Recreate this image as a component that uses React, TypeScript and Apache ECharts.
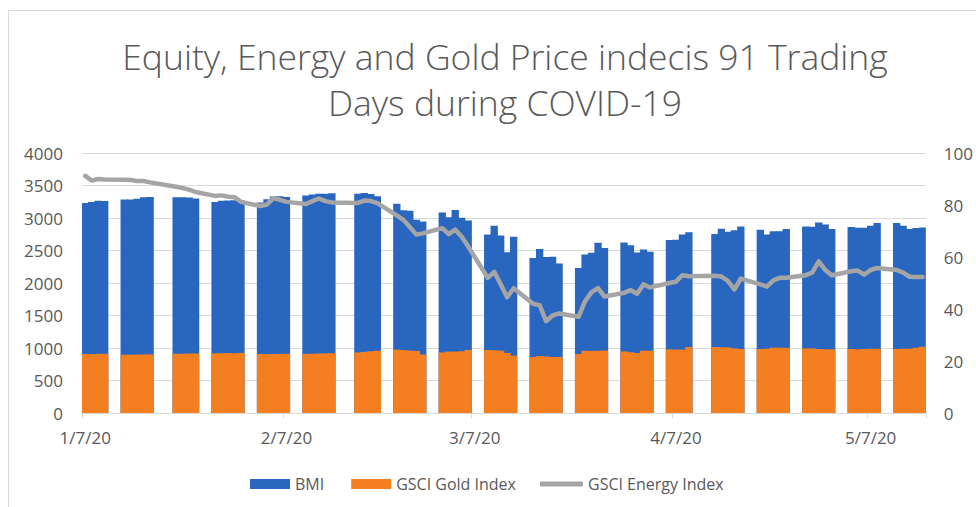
import React, { useEffect, useRef } from 'react';
import * as echarts from 'echarts';

const FONT = '"Open Sans", "Noto Sans", sans-serif';

// Trading days (91) shown on the chart
const tradingDays: string[] = [
  '1/7/20', '1/8/20', '1/9/20', '1/10/20',
  '1/13/20', '1/14/20', '1/15/20', '1/16/20', '1/17/20',
  '1/21/20', '1/22/20', '1/23/20', '1/24/20',
  '1/27/20', '1/28/20', '1/29/20', '1/30/20', '1/31/20',
  '2/3/20', '2/4/20', '2/5/20', '2/6/20', '2/7/20',
  '2/10/20', '2/11/20', '2/12/20', '2/13/20', '2/14/20',
  '2/18/20', '2/19/20', '2/20/20', '2/21/20',
  '2/24/20', '2/25/20', '2/26/20', '2/27/20', '2/28/20',
  '3/2/20', '3/3/20', '3/4/20', '3/5/20', '3/6/20',
  '3/9/20', '3/10/20', '3/11/20', '3/12/20', '3/13/20',
  '3/16/20', '3/17/20', '3/18/20', '3/19/20', '3/20/20',
  '3/23/20', '3/24/20', '3/25/20', '3/26/20', '3/27/20',
  '3/30/20', '3/31/20', '4/1/20', '4/2/20', '4/3/20',
  '4/6/20', '4/7/20', '4/8/20', '4/9/20',
  '4/13/20', '4/14/20', '4/15/20', '4/16/20', '4/17/20',
  '4/20/20', '4/21/20', '4/22/20', '4/23/20', '4/24/20',
  '4/27/20', '4/28/20', '4/29/20', '4/30/20', '5/1/20',
  '5/4/20', '5/5/20', '5/6/20', '5/7/20', '5/8/20',
  '5/11/20', '5/12/20', '5/13/20', '5/14/20', '5/15/20',
];

const bmi: number[] = [
  3230, 3245, 3265, 3260,
  3285, 3285, 3295, 3320, 3325,
  3320, 3320, 3315, 3300,
  3245, 3265, 3270, 3275, 3270,
  3240, 3290, 3330, 3335, 3325,
  3345, 3360, 3375, 3375, 3380,
  3375, 3385, 3370, 3335,
  3220, 3120, 3110, 2975, 2945,
  3085, 3010, 3125, 3005, 2960,
  2745, 2880, 2730, 2475, 2710,
  2385, 2525, 2400, 2405, 2300,
  2230, 2440, 2465, 2620, 2540,
  2625, 2580, 2470, 2515, 2480,
  2660, 2665, 2745, 2780,
  2755, 2835, 2790, 2810, 2870,
  2820, 2745, 2795, 2795, 2830,
  2870, 2865, 2930, 2900, 2830,
  2860, 2850, 2850, 2880, 2925,
  2925, 2880, 2830, 2845, 2855,
];

const gold: number[] = [
  908, 905, 910, 912,
  897, 895, 898, 900, 902,
  912, 910, 915, 915,
  918, 920, 922, 920, 925,
  910, 905, 908, 910, 912,
  910, 912, 915, 918, 920,
  932, 940, 950, 958,
  975, 968, 960, 955, 900,
  932, 945, 945, 950, 970,
  970, 965, 960, 923, 882,
  862, 876, 870, 862, 862,
  908, 958, 955, 958, 960,
  948, 935, 923, 958, 958,
  979, 975, 975, 1015,
  1015, 1013, 1008, 994, 985,
  985, 988, 1005, 1005, 1003,
  994, 994, 985, 980, 979,
  985, 979, 985, 988, 989,
  985, 988, 990, 1005, 1020,
];

const energy: number[] = [
  91.2, 89.4, 90.0, 89.8,
  89.7, 89.6, 89.2, 89.2, 88.7,
  87.0, 86.5, 85.9, 85.0,
  83.5, 83.7, 83.2, 83.0, 81.2,
  79.6, 80.2, 82.6, 82.0, 81.2,
  80.4, 81.5, 82.5, 81.5, 81.0,
  80.8, 81.7, 81.5, 80.7,
  76.0, 74.3, 71.5, 68.6, 69.1,
  71.1, 68.8, 70.5, 67.8, 64.0,
  52.0, 54.3, 49.5, 44.5, 48.0,
  42.0, 41.5, 35.3, 37.5, 38.3,
  37.0, 43.0, 46.5, 48.0, 44.8,
  46.2, 47.3, 45.8, 49.5, 48.3,
  50.0, 50.5, 53.0, 52.6,
  52.8, 52.5, 50.8, 47.5, 51.7,
  49.5, 48.6, 51.0, 52.0, 52.0,
  53.0, 54.0, 58.3, 55.0, 53.0,
  54.5, 54.8, 53.2, 55.0, 55.8,
  55.0, 54.0, 52.4, 52.3, 52.3,
];

const leftTicks = { min: 0, max: 4000, interval: 500 };
const rightTicks = { min: 0, max: 100, interval: 20 };

const BLUE = '#2866BF';
const ORANGE = '#F47F20';
const GREY = '#A5A5A5';

function buildCalendar(): string[] {
  const out: string[] = [];
  const d = new Date(Date.UTC(2020, 0, 7));
  const end = Date.UTC(2020, 4, 15);
  while (d.getTime() <= end) {
    out.push(`${d.getUTCMonth() + 1}/${d.getUTCDate()}/20`);
    d.setUTCDate(d.getUTCDate() + 1);
  }
  return out;
}

export default function App() {
  const ref = useRef<HTMLDivElement>(null);
  useEffect(() => {
    const chart = echarts.init(ref.current!, null, { renderer: 'svg' });
    const calendar = buildCalendar();
    const idx: Record<string, number> = {};
    tradingDays.forEach((t, i) => (idx[t] = i));
    const pick = (arr: number[]) =>
      calendar.map((c) => (idx[c] !== undefined ? arr[idx[c]] : null));
    const isSeventh = (i: number) => !!calendar[i] && calendar[i].split('/')[1] === '7';
    const legendText = { color: '#595959', fontFamily: FONT, fontSize: 16, lineHeight: 20 };

    const option: any = {
      animation: false,
      backgroundColor: '#ffffff',
      title: {
        text: 'Equity, Energy and Gold Price indecis 91 Trading\nDays during COVID-19',
        left: 500,
        top: 28,
        textAlign: 'center',
        textStyle: {
          color: '#595959',
          fontFamily: FONT,
          fontSize: 35.5,
          fontWeight: 300,
          lineHeight: 46,
        },
      },
      legend: [
        {
          left: 250,
          top: 474,
          padding: 0,
          itemWidth: 40,
          itemHeight: 10,
          itemGap: 27,
          textStyle: legendText,
          data: [
            { name: 'BMI', icon: 'rect' },
            { name: 'GSCI Gold Index', icon: 'rect' },
          ],
        },
        {
          left: 540,
          top: 474,
          padding: 0,
          itemWidth: 43,
          itemHeight: 5,
          textStyle: legendText,
          data: [{ name: 'GSCI Energy Index', icon: 'roundRect' }],
        },
      ],
      grid: { left: 82, right: 48, top: 153, bottom: 94 },
      xAxis: {
        type: 'category',
        data: calendar,
        boundaryGap: true,
        axisLine: { lineStyle: { color: '#d9d9d9', width: 1 } },
        axisTick: {
          show: true,
          length: 5,
          interval: (i: number) => isSeventh(i),
          lineStyle: { color: '#d9d9d9' },
        },
        axisLabel: {
          interval: (i: number) => isSeventh(i),
          color: '#595959',
          fontFamily: FONT,
          fontSize: 17,
          margin: 16,
        },
      },
      yAxis: [
        {
          type: 'value',
          ...leftTicks,
          axisLine: { show: false },
          axisTick: { show: false },
          axisLabel: {
            color: '#595959',
            fontFamily: FONT,
            fontSize: 17,
            margin: 19,
            formatter: (v: number) => String(v),
          },
          splitLine: { lineStyle: { color: '#d9d9d9', width: 1 } },
        },
        {
          type: 'value',
          position: 'right',
          ...rightTicks,
          axisLine: { show: false },
          axisTick: { show: false },
          axisLabel: {
            color: '#595959',
            fontFamily: FONT,
            fontSize: 17,
            margin: 18,
            formatter: (v: number) => String(v),
          },
          splitLine: { show: false },
        },
      ],
      graphic: [
        {
          type: 'rect',
          shape: { x: 8.5, y: 10.5, width: 1000, height: 600 },
          style: { fill: 'none', stroke: '#d9d9d9', lineWidth: 1 },
          silent: true,
        },
      ],
      series: [
        {
          name: 'BMI',
          type: 'bar',
          data: pick(bmi),
          barGap: '-100%',
          barWidth: 7.3,
          itemStyle: { color: BLUE },
        },
        {
          name: 'GSCI Gold Index',
          type: 'bar',
          data: pick(gold),
          barGap: '-100%',
          barWidth: 7.3,
          itemStyle: { color: ORANGE },
        },
        {
          name: 'GSCI Energy Index',
          type: 'line',
          yAxisIndex: 1,
          data: pick(energy),
          connectNulls: true,
          symbol: 'none',
          itemStyle: { color: GREY },
          lineStyle: { color: GREY, width: 4.5, cap: 'round', join: 'round' },
        },
      ],
    };
    chart.setOption(option);
    return () => chart.dispose();
  }, []);
  return (
    <div
      ref={ref}
      style={{ position: 'fixed', left: 0, top: 0, width: 976, height: 507, background: '#fff' }}
    />
  );
}
